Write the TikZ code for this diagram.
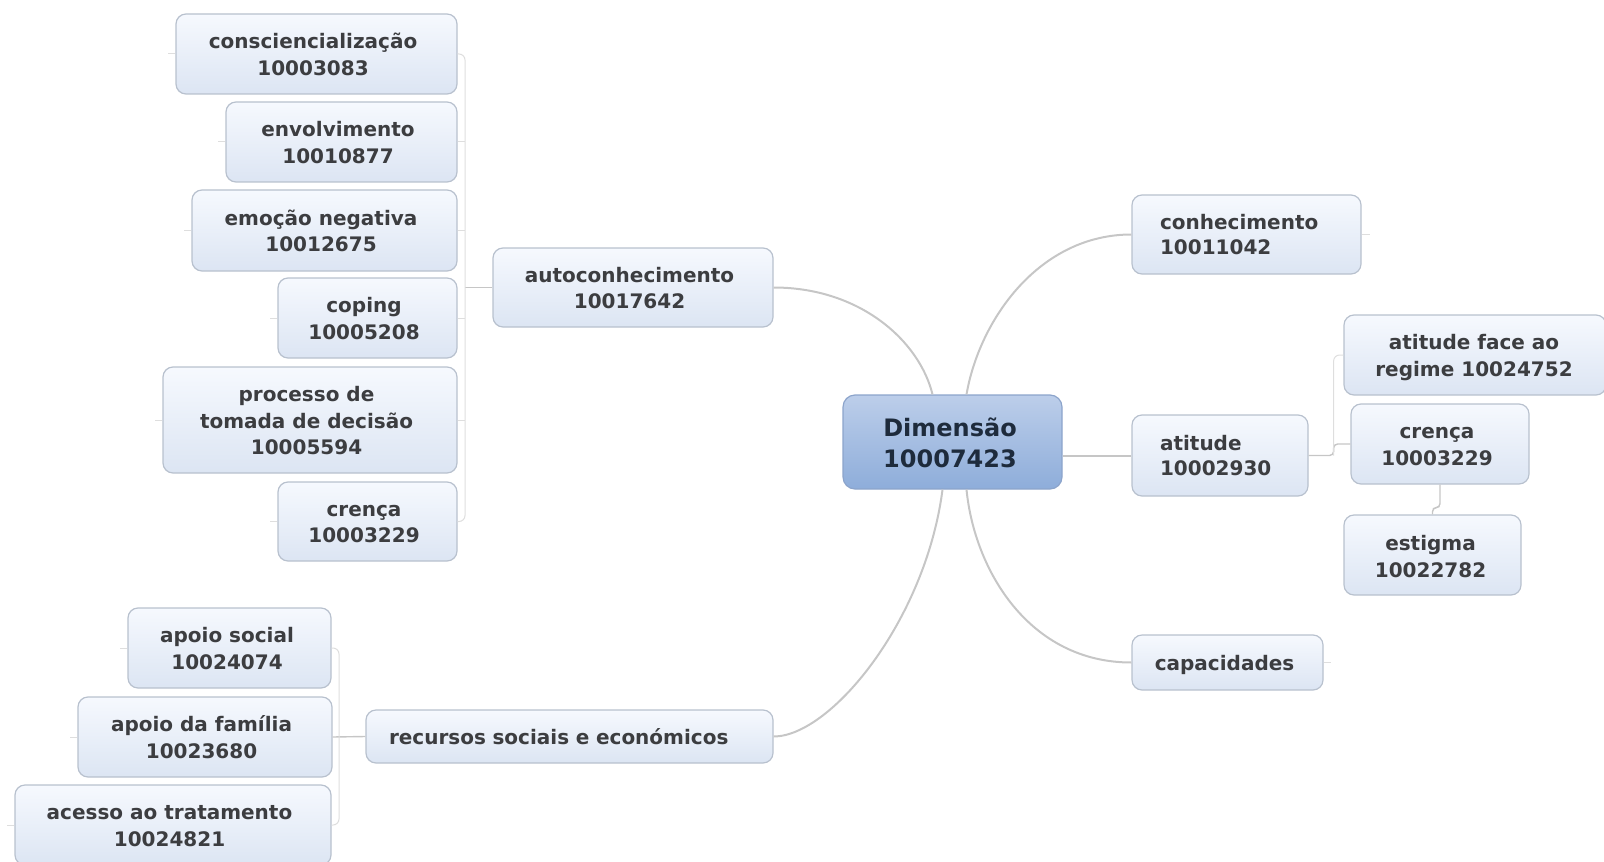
\documentclass[tikz,border=0pt]{standalone}
\usepackage{fontspec}
\setmainfont{DejaVu Sans}
\definecolor{boxborder}{HTML}{B8C1CE}
\definecolor{boxtop}{HTML}{F6F9FE}
\definecolor{boxbot}{HTML}{DCE5F3}
\definecolor{boxtext}{HTML}{3C3D40}
\definecolor{dimtop}{HTML}{BCCEEA}
\definecolor{dimbot}{HTML}{8EADDA}
\definecolor{dimborder}{HTML}{8CA4CB}
\definecolor{dimtext}{HTML}{1E2B3C}
\definecolor{linemain}{HTML}{C6C6C6}
\definecolor{linefaint}{HTML}{DEDEDE}
\newcommand{\mmtxtgen}[3]{\raisebox{-#1}[\height][\depth]{\def\arraystretch{1.03}\begin{tabular}{@{}c@{\hspace{#2}}}#3\end{tabular}}}
\newcommand{\mmtxt}[2][3.5pt]{\mmtxtgen{1.4pt}{#1}{#2}}
\begin{document}
\begin{tikzpicture}[x=0.5pt,y=-0.5pt,
  sz/.style 2 args={minimum width=#1*0.5pt, minimum height=#2*0.5pt},
  leaf/.style={rectangle, rounded corners=5pt, draw=boxborder, line width=0.6pt,
    top color=boxtop, bottom color=boxbot, text=boxtext, align=center, inner sep=0pt,
    font=\fontsize{10}{12.8}\selectfont\bfseries},
  leftleaf/.style={leaf, align=left, inner xsep=14pt},
  dimbox/.style={rectangle, rounded corners=6pt, draw=dimborder, line width=0.6pt,
    top color=dimtop, bottom color=dimbot, text=dimtext, align=center, inner sep=0pt,
    font=\fontsize{12}{14.6}\selectfont\bfseries},
  mainline/.style={draw=linemain, line width=1pt},
  midline/.style={draw=linemain, line width=0.7pt},
  faintline/.style={draw=linefaint, line width=0.5pt}]
\useasboundingbox (0,0) rectangle (1604,861);

% center
\node[dimbox, sz={219}{94}] (dim) at (952.5,442) {\mmtxtgen{2pt}{2.5pt}{Dimensão\\10007423}};

% left branch: autoconhecimento
\node[leaf, sz={280}{79}] (autocon) at (633,287.5) {\mmtxt{autoconhecimento\\10017642}};
\node[leaf, sz={281}{80}] (consc) at (316.5,54) {\mmtxt{consciencialização\\10003083}};
\node[leaf, sz={231}{80}] (envolv) at (341.5,142) {\mmtxt{envolvimento\\10010877}};
\node[leaf, sz={265}{81}] (emocao) at (324.5,230.5) {\mmtxt{emoção negativa\\10012675}};
\node[leaf, sz={179}{80}] (coping) at (367.5,318) {\mmtxt{coping\\10005208}};
\node[leaf, sz={294}{106}] (processo) at (310,420) {\mmtxt{processo de\\tomada de decisão\\10005594}};
\node[leaf, sz={179}{79}] (crencaL) at (367.5,521.5) {\mmtxt{crença\\10003229}};

% lower left: recursos
\node[leftleaf, inner xsep=11.5pt, text width=180.5pt, minimum height=26.5pt] (recursos) at (569.5,736.5) {recursos sociais e económicos};
\node[leaf, sz={203}{80}] (apoioS) at (229.5,648) {\mmtxt[2.5pt]{apoio social\\10024074}};
\node[leaf, sz={254}{80}] (apoioF) at (205,737) {\mmtxt{apoio da família\\10023680}};
\node[leaf, sz={316}{80}] (acesso) at (173,825) {\mmtxt{acesso ao tratamento\\10024821}};

% right side
\node[leftleaf, text width=86.5pt, minimum height=39.5pt] (conhec) at (1246.5,234.5) {conhecimento\\10011042};
\node[leftleaf, text width=60pt, minimum height=40.5pt] (atitude) at (1220,455.5) {atitude\\10002930};
\node[leaf, sz={262}{80}] (atface) at (1475,355) {\mmtxt[1pt]{atitude face ao\\regime 10024752}};
\node[leaf, sz={178}{80}] (crencaR) at (1440,444) {\mmtxt[3pt]{crença\\10003229}};
\node[leaf, sz={177}{80}] (estigma) at (1432.5,555) {\mmtxtgen{1.8pt}{2pt}{estigma\\10022782}};
\node[leaf, sz={191}{55}] (capac) at (1227.5,662.5) {\mmtxt[3pt]{capacidades}};

% main curves
\draw[mainline] (autocon.east) .. controls +(87,0) and +(-13,-53) .. ([xshift=-10pt]dim.north);
\draw[mainline] ([xshift=7pt]dim.north) .. controls +(13,-75) and +(-92,0) .. (conhec.west);
\draw[mainline] ([xshift=7pt]dim.south) .. controls +(8,81) and +(-102,0) .. (capac.west);
\draw[mainline] ([xshift=-5pt]dim.south) .. controls +(-17,131) and +(57,0) .. (recursos.east);
\draw[mainline] (dim.east |- atitude.west) -- (atitude.west);

% left tree
\coordinate (spineL) at (465,287.5);
\draw[midline] (autocon.west) -- (spineL);
\draw[faintline, rounded corners=3pt] (consc.east) -| (spineL) |- (crencaL.east);
\foreach \n in {envolv,emocao,coping,processo}
  \draw[faintline] (\n.east) -- (\n.east -| spineL);
\foreach \n in {consc,envolv,emocao,coping,processo,crencaL}
  \draw[faintline] (\n.west) -- ++(-7,0);

% recursos tree
\coordinate (spineR) at (339,737);
\draw[midline] (recursos.west) -- (apoioF.east);
\draw[faintline, rounded corners=3pt] (apoioS.east) -| (spineR) |- (acesso.east);
\foreach \n in {apoioS,apoioF,acesso}
  \draw[faintline] (\n.west) -- ++(-7,0);

% atitude tree
\draw[midline, rounded corners=2pt] (atitude.east) -- ++(25,0) |- (crencaR.west);
\draw[faintline, rounded corners=3pt] (atitude.east) ++(25,0) |- (atface.west);
\draw[midline, rounded corners=2pt] (crencaR.south) -- ++(0,23) -| (estigma.north);

% right stubs
\draw[faintline] (conhec.east) -- ++(8,0);
\draw[faintline] (capac.east) -- ++(7,0);
\end{tikzpicture}
\end{document}
